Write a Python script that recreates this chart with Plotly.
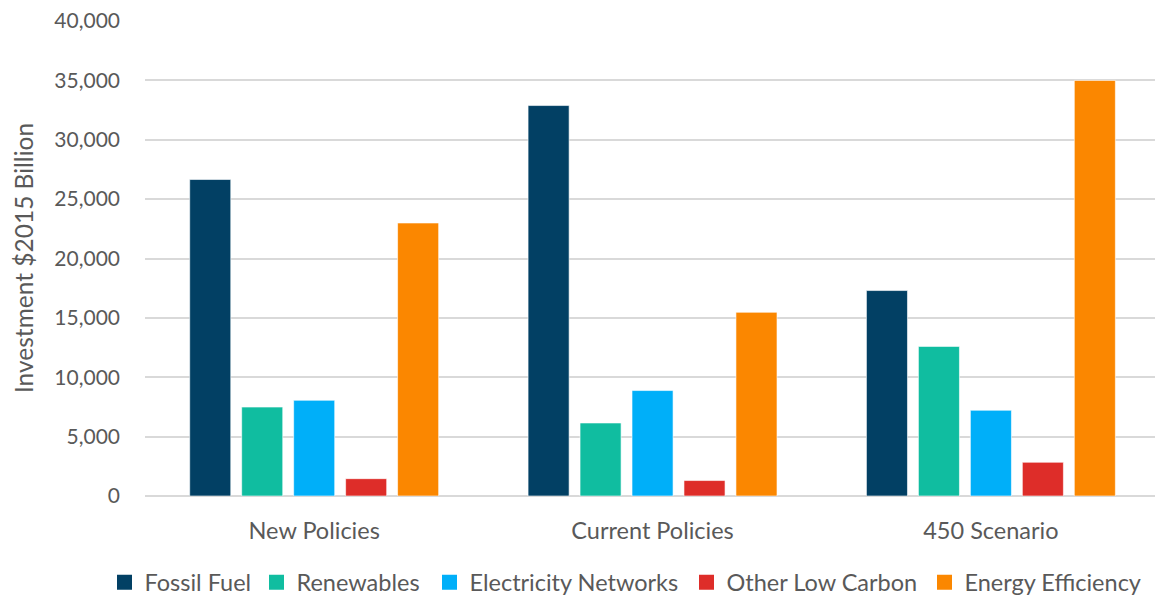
import plotly.graph_objects as go

scenarios = ["New Policies", "Current Policies", "450 Scenario"]
fossil_fuel = [26650, 32880, 17300]
renewables = [7490, 6150, 12600]
electricity_networks = [8060, 8880, 7220]
other_low_carbon = [1460, 1300, 2840]
energy_efficiency = [22990, 15470, 35000]

series = [
    ("Fossil Fuel", fossil_fuel, "#024064"),
    ("Renewables", renewables, "#10bda0"),
    ("Electricity Networks", electricity_networks, "#00aff9"),
    ("Other Low Carbon", other_low_carbon, "#de2d29"),
    ("Energy Efficiency", energy_efficiency, "#fb8700"),
]

# left edge (px) of each legend entry along the bottom row
legend_left_px = [104.5, 256.5, 429.5, 686.5, 924.5]

font_family = "Lato, 'Open Sans', sans-serif"
text_color = "#595959"

fig_width = 1155
plot_left = 144.5
plot_width = fig_width - plot_left

fig = go.Figure()
legend_layouts = {}
for i, (name, values, color) in enumerate(series):
    legend_id = "legend" if i == 0 else f"legend{i + 1}"
    fig.add_trace(go.Bar(
        name=name,
        x=scenarios,
        y=values,
        legendgroup=name,
        showlegend=False,
        marker=dict(color=color, line=dict(color="rgba(255,255,255,0.6)", width=1)),
    ))
    # legend key drawn as a larger square swatch
    fig.add_trace(go.Scatter(
        name=name,
        x=[None],
        y=[None],
        mode="markers",
        legendgroup=name,
        legend=legend_id,
        marker=dict(symbol="square", size=15, color=color),
        hoverinfo="skip",
    ))
    legend_layouts[legend_id] = dict(
        orientation="h",
        xref="container",
        x=legend_left_px[i] / fig_width,
        xanchor="left",
        y=-0.182,
        yanchor="middle",
        font=dict(size=23.5, color=text_color),
        itemwidth=30,
        bgcolor="rgba(0,0,0,0)",
    )

# y-axis title placed at a fixed offset left of the plot area
fig.add_annotation(
    text="Investment $2015 Billion",
    xref="paper",
    yref="paper",
    x=(23 - plot_left) / plot_width,
    y=0.5,
    xanchor="center",
    yanchor="middle",
    textangle=-90,
    showarrow=False,
    font=dict(size=24.5, color=text_color),
)

fig.update_layout(
    width=fig_width,
    height=598,
    barmode="group",
    bargap=0.232,
    bargroupgap=0.21,
    plot_bgcolor="white",
    paper_bgcolor="white",
    margin=dict(l=plot_left, r=0, t=20.7, b=102.3, autoexpand=False),
    font=dict(family=font_family, color=text_color, size=21),
    showlegend=True,
    xaxis=dict(
        type="category",
        range=[-0.5, 2.485],
        showgrid=False,
        showline=False,
        ticks="",
        tickfont=dict(size=23.5, color=text_color),
        ticklabelstandoff=18,
    ),
    yaxis=dict(
        range=[0, 40000],
        dtick=5000,
        tickformat=",d",
        showgrid=True,
        gridcolor="#d9d9d9",
        gridwidth=1.5,
        zeroline=True,
        zerolinecolor="#d9d9d9",
        zerolinewidth=1.5,
        showline=False,
        ticks="",
        tickfont=dict(size=21, color=text_color),
        ticklabelstandoff=24,
    ),
    **legend_layouts,
)

fig.write_html("out.html")
